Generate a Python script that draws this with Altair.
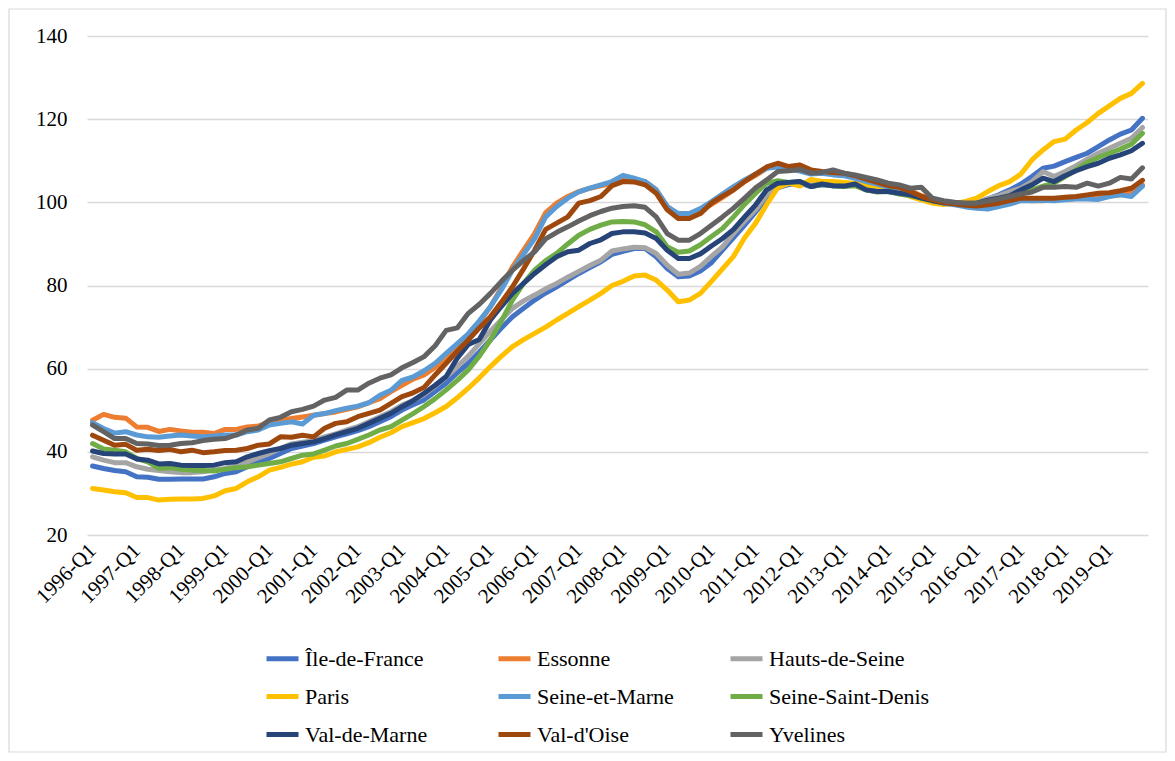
import altair as alt
import pandas as pd

years = list(range(1996, 2020))
quarters = [f"{y}-Q{q}" for y in years for q in range(1, 5)]
q1_labels = [f"{y}-Q1" for y in years]

series_names = ["Île-de-France", "Essonne", "Hauts-de-Seine", "Paris", "Seine-et-Marne",
                "Seine-Saint-Denis", "Val-de-Marne", "Val-d'Oise", "Yvelines"]
series_colors = ["#4472C4", "#ED7D31", "#A5A5A5", "#FFC000", "#5B9BD5",
                 "#70AD47", "#264478", "#9E480E", "#636363"]

ile_de_france = [36.6, 36.0, 35.5, 35.2, 34.0, 33.9, 33.4, 33.4, 33.45, 33.45, 33.45, 34.0,
                 34.8, 35.2, 36.4, 37.4, 38.4, 39.6, 40.8, 41.4, 42.0, 42.8, 43.6, 44.3,
                 45.1, 46.05, 47.25, 48.45, 50.05, 51.3, 52.5, 54.5, 56.5, 59.0, 61.3, 64.0,
                 66.9, 69.8, 72.5, 74.5, 76.5, 78.2, 79.7, 81.3, 82.9, 84.3, 85.7, 87.5,
                 88.2, 88.9, 88.9, 86.9, 84.1, 82.1, 82.3, 83.5, 85.5, 88.5, 91.5, 94.5,
                 97.7, 101.0, 103.5, 104.3, 104.6, 103.8, 104.2, 104.0, 103.9, 104.2, 103.0, 102.6,
                 102.6, 102.2, 101.8, 101.0, 100.4, 100.0, 99.8, 99.7, 99.8, 100.8, 101.8, 103.0,
                 104.4, 106.2, 108.2, 108.7, 109.8, 110.8, 111.8, 113.4, 115.0, 116.4, 117.4, 120.2]
essonne = [47.6, 49.0, 48.3, 48.1, 46.0, 45.9, 44.9, 45.4, 45.0, 44.7, 44.7, 44.4,
           45.4, 45.4, 46.0, 46.2, 47.2, 47.6, 48.0, 48.4, 48.8, 49.2, 49.6, 50.2,
           50.8, 51.8, 52.8, 54.5, 56.0, 57.5, 58.5, 60.3, 62.1, 65.0, 67.7, 71.2,
           74.9, 79.5, 84.5, 88.5, 92.5, 97.5, 99.8, 101.4, 102.6, 103.4, 104.0, 104.6,
           105.8, 105.4, 105.0, 103.0, 99.0, 96.9, 96.9, 98.0, 99.5, 101.2, 103.0, 105.0,
           106.5, 108.2, 109.2, 108.4, 108.9, 107.6, 107.2, 107.0, 106.8, 106.2, 105.4, 104.6,
           104.0, 103.6, 102.8, 101.6, 100.6, 100.0, 99.6, 99.4, 99.4, 99.8, 100.4, 101.8,
           100.8, 100.4, 100.4, 100.6, 100.8, 100.9, 101.0, 101.2, 101.5, 101.8, 102.4, 104.2]
hauts_de_seine = [38.8, 38.0, 37.4, 37.4, 36.4, 35.8, 35.5, 35.2, 35.0, 35.0, 35.2, 35.6,
                  36.0, 36.6, 37.6, 38.6, 39.6, 40.8, 41.9, 42.3, 42.7, 43.6, 44.3, 45.25,
                  46.05, 47.25, 48.45, 49.65, 51.25, 52.3, 53.8, 55.8, 58.0, 60.5, 63.0, 66.0,
                  69.0, 71.8, 74.5, 76.3, 77.7, 79.2, 80.5, 82.0, 83.4, 84.8, 86.1, 88.3,
                  88.8, 89.2, 89.1, 87.7, 84.9, 82.7, 83.0, 84.6, 87.0, 89.3, 92.5, 95.5,
                  98.2, 101.8, 104.0, 104.6, 104.8, 104.2, 104.5, 104.3, 104.0, 104.2, 103.2, 102.8,
                  102.6, 102.3, 101.9, 101.1, 100.5, 100.0, 99.8, 99.8, 100.0, 100.9, 101.6, 102.6,
                  103.4, 105.0, 107.4, 106.2, 107.4, 108.8, 110.4, 111.8, 113.0, 114.2, 115.4, 118.0]
paris = [31.2, 30.8, 30.4, 30.15, 29.0, 29.0, 28.4, 28.6, 28.65, 28.65, 28.8, 29.4,
         30.65, 31.2, 32.8, 34.0, 35.6, 36.25, 37.05, 37.6, 38.7, 39.0, 40.0, 40.6,
         41.2, 42.2, 43.5, 44.6, 46.05, 47.0, 48.0, 49.4, 50.9, 53.0, 55.3, 57.8,
         60.5, 63.0, 65.3, 67.0, 68.5, 70.0, 71.7, 73.3, 74.9, 76.5, 78.1, 80.0,
         81.0, 82.3, 82.5, 81.3, 78.9, 76.1, 76.5, 78.1, 81.0, 84.0, 87.0, 91.5,
         95.0, 99.5, 103.5, 104.6, 103.9, 105.5, 105.0, 105.0, 104.8, 104.6, 104.2, 103.8,
         103.0, 102.6, 101.4, 100.6, 99.8, 99.5, 99.7, 100.2, 101.0, 102.6, 104.0, 105.0,
         106.8, 110.2, 112.6, 114.6, 115.2, 117.4, 119.2, 121.4, 123.2, 125.0, 126.2, 128.6]
seine_et_marne = [47.0, 45.6, 44.5, 44.85, 44.05, 43.6, 43.5, 43.8, 44.05, 43.8, 43.6, 43.8,
                  44.05, 44.05, 44.85, 45.25, 46.45, 46.85, 47.25, 46.7, 48.8, 49.2, 49.9, 50.5,
                  51.0, 51.8, 53.6, 54.8, 57.2, 58.0, 59.5, 61.3, 63.7, 66.0, 68.4, 71.5,
                  74.9, 79.0, 83.7, 87.5, 91.3, 96.5, 99.0, 101.0, 102.5, 103.4, 104.2, 105.0,
                  106.5, 105.8, 105.0, 103.0, 99.0, 97.3, 97.3, 98.5, 100.2, 102.0, 103.8, 105.4,
                  106.8, 108.2, 108.5, 108.0, 107.5, 106.8, 107.0, 106.6, 106.4, 105.8, 105.0, 104.4,
                  103.6, 103.4, 102.4, 101.2, 100.4, 99.8, 99.4, 98.9, 98.6, 98.4, 99.0, 99.6,
                  100.4, 100.4, 100.5, 100.4, 100.6, 100.8, 100.8, 100.7, 101.4, 101.8, 101.4, 103.9]
seine_saint_denis = [42.0, 40.7, 40.4, 40.0, 38.4, 37.6, 36.0, 36.2, 35.8, 35.6, 35.5, 35.4,
                     35.8, 36.2, 36.4, 36.8, 37.2, 37.6, 38.4, 39.2, 39.5, 40.4, 41.4, 42.0,
                     43.0, 44.05, 45.25, 46.05, 47.65, 49.2, 50.9, 52.8, 54.9, 57.2, 59.7, 63.0,
                     66.9, 71.5, 76.5, 80.5, 83.7, 86.0, 87.7, 90.0, 92.1, 93.5, 94.5, 95.3,
                     95.4, 95.3, 94.6, 92.9, 89.3, 88.0, 88.3, 89.8, 91.8, 93.7, 96.5, 99.5,
                     102.2, 104.6, 105.2, 104.8, 105.0, 103.8, 104.3, 104.0, 103.8, 104.0, 103.0, 102.5,
                     102.6, 102.0, 101.6, 101.0, 100.3, 100.0, 99.8, 99.7, 99.8, 100.0, 100.6, 101.4,
                     102.2, 103.0, 103.9, 104.6, 106.2, 107.8, 109.6, 110.8, 111.8, 112.8, 114.0, 116.6]
val_de_marne = [40.2, 39.6, 39.5, 39.5, 38.3, 38.0, 37.1, 37.2, 36.8, 36.7, 36.7, 36.8,
                37.4, 37.6, 38.8, 39.6, 40.3, 40.8, 41.6, 42.0, 42.4, 43.2, 44.05, 44.85,
                45.65, 46.85, 48.05, 49.25, 50.85, 52.3, 54.1, 56.0, 58.1, 62.5, 65.8, 67.0,
                71.7, 75.0, 78.1, 80.5, 82.9, 85.0, 86.9, 88.1, 88.5, 90.1, 91.0, 92.5,
                92.9, 92.9, 92.6, 91.3, 88.5, 86.5, 86.5, 87.6, 89.5, 91.3, 93.5, 96.5,
                99.4, 103.0, 104.6, 104.8, 105.0, 103.8, 104.4, 104.0, 103.9, 104.4, 103.0, 102.6,
                102.6, 102.2, 101.8, 101.0, 100.4, 99.9, 99.8, 99.8, 99.8, 100.5, 101.0, 101.6,
                103.0, 104.2, 105.8, 105.0, 106.4, 107.6, 108.6, 109.4, 110.6, 111.4, 112.4, 114.2]
val_d_oise = [44.0, 42.8, 41.6, 41.8, 40.4, 40.6, 40.3, 40.6, 40.0, 40.4, 39.8, 40.0,
              40.3, 40.4, 40.8, 41.6, 41.9, 43.6, 43.5, 44.0, 43.6, 45.65, 46.85, 47.25,
              48.45, 49.25, 50.05, 51.65, 53.3, 54.2, 55.5, 58.5, 61.3, 64.2, 66.9, 69.8,
              72.5, 76.0, 79.7, 84.0, 88.5, 93.5, 95.0, 96.5, 99.8, 100.4, 101.4, 104.0,
              105.0, 104.9, 104.2, 102.2, 98.2, 96.1, 96.1, 97.3, 99.8, 101.5, 103.0, 105.0,
              106.8, 108.5, 109.4, 108.6, 109.0, 107.8, 107.4, 107.2, 107.0, 106.4, 105.6, 104.8,
              104.0, 103.6, 102.6, 101.4, 100.6, 100.0, 99.6, 99.3, 99.1, 99.4, 99.8, 100.4,
              101.0, 101.0, 101.0, 101.0, 101.2, 101.4, 101.8, 102.2, 102.3, 102.8, 103.4, 105.3]
yvelines = [46.45, 44.85, 43.2, 43.2, 42.0, 41.9, 41.5, 41.6, 42.0, 42.2, 42.7, 43.0,
            43.2, 44.05, 45.25, 45.65, 47.65, 48.3, 49.65, 50.2, 51.0, 52.45, 53.1, 54.85,
            54.85, 56.5, 57.7, 58.5, 60.2, 61.5, 62.9, 65.5, 69.2, 69.8, 73.3, 75.5,
            78.1, 81.0, 83.7, 86.0, 88.1, 91.2, 92.8, 94.1, 95.5, 96.8, 97.8, 98.6,
            99.0, 99.2, 98.8, 96.5, 92.5, 90.9, 90.9, 92.5, 94.5, 96.5, 98.6, 101.0,
            103.5, 105.4, 107.4, 107.6, 107.9, 107.0, 107.2, 107.8, 107.0, 106.6, 106.0, 105.4,
            104.6, 104.2, 103.4, 103.6, 101.0, 100.4, 100.0, 99.8, 99.8, 100.3, 100.8, 101.4,
            102.0, 102.5, 103.6, 103.6, 103.8, 103.6, 104.6, 103.9, 104.6, 106.0, 105.6, 108.3]

all_series = [ile_de_france, essonne, hauts_de_seine, paris, seine_et_marne,
              seine_saint_denis, val_de_marne, val_d_oise, yvelines]

rows = []
for name, vals in zip(series_names, all_series):
    for qi, (q, v) in enumerate(zip(quarters, vals)):
        rows.append({"quarter": q, "idx": qi, "series": name, "value": v})
df = pd.DataFrame(rows)

FONT = "'Liberation Serif', 'Times New Roman', Tinos, 'DejaVu Serif', serif"
W, H = 1061, 499
PAD_L, PAD_T, PAD_R, PAD_B = 79, 28, 19, 218

lines = alt.Chart(df).mark_line(strokeWidth=5, strokeJoin="round", strokeCap="round").encode(
    x=alt.X("quarter:O", sort=quarters, title=None,
            scale=alt.Scale(type="point", padding=0.5),
            axis=alt.Axis(values=q1_labels, labelAngle=-45, labelAlign="right",
                          labelBaseline="middle", labelFont=FONT, labelFontSize=21,
                          labelColor="#000000", labelPadding=12, ticks=False, domain=False,
                          grid=False, labelOverlap=False, labelBound=False)),
    y=alt.Y("value:Q", title=None,
            scale=alt.Scale(domain=[20, 140], nice=False, zero=False),
            axis=alt.Axis(values=[20, 40, 60, 80, 100, 120, 140], labelFont=FONT,
                          labelFontSize=21, labelColor="#000000", labelPadding=20,
                          ticks=False, domain=False, grid=True, gridColor="#d9d9d9",
                          gridWidth=1.3)),
    color=alt.Color("series:N", sort=series_names,
                    scale=alt.Scale(domain=series_names, range=series_colors),
                    legend=alt.Legend(title=None, orient="none", legendX=177, legendY=604,
                                      columns=3, direction="horizontal", gridAlign="all",
                                      symbolType="stroke", symbolSize=1024,
                                      symbolStrokeWidth=5, labelFont=FONT,
                                      labelFontSize=22, labelColor="#000000",
                                      labelOffset=4, rowPadding=8, columnPadding=22,
                                      labelLimit=300)),
    detail="series:N",
    order="idx:Q",
)

border = alt.Chart(pd.DataFrame({"a": [0]})).mark_rect(
    fill=None, stroke="#d9d9d9", strokeWidth=1.2
).encode(
    x=alt.value(-PAD_L + 1),
    x2=alt.value(W + PAD_R - 1),
    y=alt.value(-PAD_T + 1),
    y2=alt.value(H + PAD_B - 1),
)

chart = alt.layer(border, lines).properties(
    width=W, height=H,
    autosize=alt.AutoSizeParams(type="none"),
    padding={"left": PAD_L, "top": PAD_T, "right": PAD_R, "bottom": PAD_B},
).configure(
    background="#ffffff", font=FONT
).configure_view(stroke=None).configure_axis(
    labelFont=FONT
).configure_legend(labelFont=FONT)

chart.save("out.html", embed_options={"renderer": "svg", "actions": False})
